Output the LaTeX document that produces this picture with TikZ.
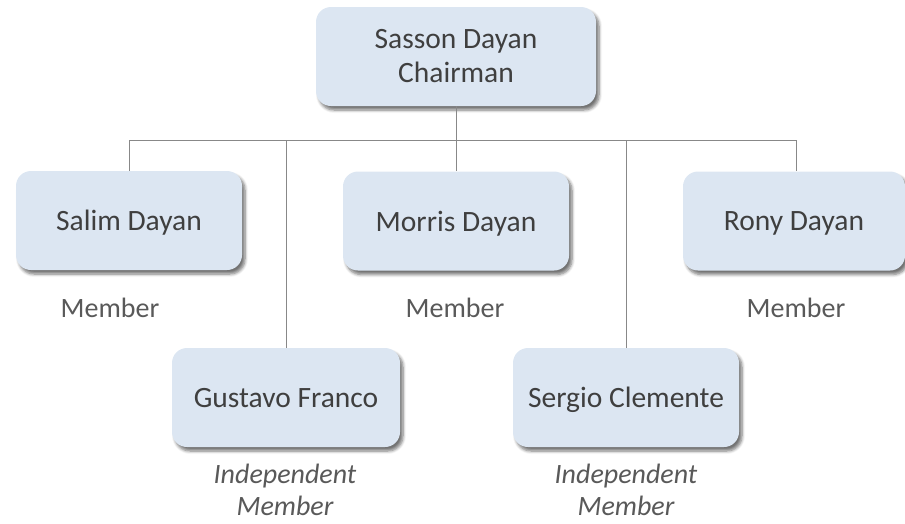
\documentclass[tikz,border=0pt]{standalone}
\usepackage{fontspec}
\setmainfont{Carlito}
\usetikzlibrary{shadows.blur}
\definecolor{boxfill}{HTML}{DCE6F2}
\definecolor{boxtext}{HTML}{3F3F3F}
\definecolor{labtext}{HTML}{595959}
\definecolor{linecol}{HTML}{888888}
\tikzset{
  person/.style={rectangle, rounded corners=15pt, fill=boxfill, draw=none,
    minimum width=226pt, minimum height=99pt, inner sep=0pt,
    text=boxtext, font=\fontsize{29.5}{34}\selectfont, align=center,
    blur shadow={shadow xshift=3pt, shadow yshift=-4pt, shadow blur steps=6, shadow blur radius=3pt, shadow opacity=55}},
  single/.style={text depth=0pt},
  role/.style={text=labtext, font=\fontsize{28}{33}\selectfont, anchor=base, inner sep=0pt, align=center},
  conn/.style={draw=linecol, line width=0.9pt}
}
\begin{document}
\begin{tikzpicture}[x=1pt,y=1pt]
\useasboundingbox (0,0) rectangle (905,-523);
\node[person, minimum width=280pt] (top) at (456,-56.5) {Sasson Dayan\\Chairman};
\node[person, single] (salim) at (129,-220.5) {Salim Dayan};
\node[person, single] (morris) at (456,-221) {Morris Dayan};
\node[person, single, minimum width=222pt] (rony) at (794,-221) {Rony Dayan};
\node[person, single, minimum width=228pt] (gustavo) at (286,-397.5) {Gustavo Franco};
\node[person, single] (sergio) at (626,-397.5) {Sergio Clemente};
\coordinate (bus) at (456,-140);
\draw[conn] (top.south) -- (bus);
\draw[conn] (bus) -| (salim.north);
\draw[conn] (bus) -| (rony.north -| 796,0);
\draw[conn] (bus) -- (morris.north);
\draw[conn] (bus -| gustavo.north) -- (gustavo.north);
\draw[conn] (bus -| sergio.north) -- (sergio.north);
\node[role] (l1) at (110,-317) {Member};
\node[role] (l2) at (455,-317) {Member};
\node[role] (l3) at (796,-317) {Member};
\node[role, font=\fontsize{28}{32}\selectfont\itshape] (l4) at (285,-515) {Independent\\Member};
\node[role, font=\fontsize{28}{32}\selectfont\itshape] (l5) at (626,-515) {Independent\\Member};
\end{tikzpicture}
\end{document}
